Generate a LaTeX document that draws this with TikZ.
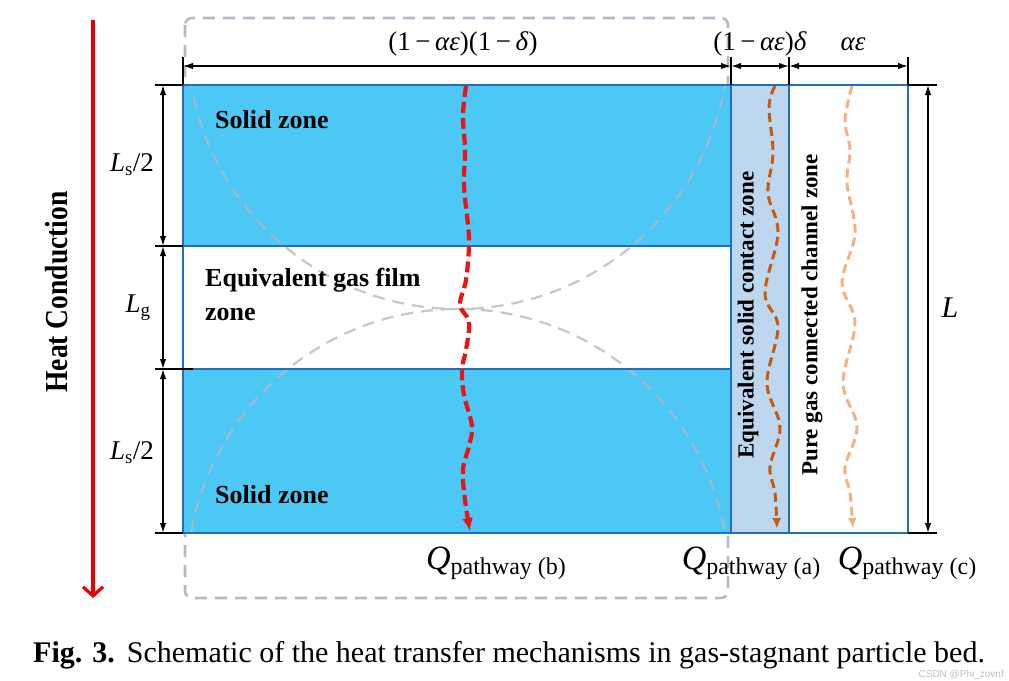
\documentclass[tikz,border=0pt]{standalone}
\usepackage{fontspec}
\setmainfont{Liberation Serif}
\newfontfamily\wmfont{Liberation Sans}
\usetikzlibrary{arrows.meta}
\definecolor{boxblue}{RGB}{30,112,184}
\definecolor{solidfill}{RGB}{77,199,243}
\definecolor{stripfill}{RGB}{189,215,238}
\definecolor{dashgray}{RGB}{178,186,202}
\definecolor{heatred}{RGB}{232,0,0}
\definecolor{pathred}{RGB}{235,20,20}
\definecolor{pathorange}{RGB}{197,90,17}
\definecolor{pathpeach}{RGB}{244,177,131}
\begin{document}
\begin{tikzpicture}[x=1pt,y=-1pt,
  zonebox/.style={draw=boxblue,line width=2.8pt},
  dimline/.style={line width=1.5pt,{Latex[length=10pt,width=6.5pt]}-{Latex[length=10pt,width=6.5pt]}},
  dimtick/.style={line width=1.5pt},
  zonetext/.style={font=\fontsize{26}{34}\selectfont\bfseries,inner sep=0pt},
  striptext/.style={font=\fontsize{23}{23}\selectfont\bfseries,rotate=90,inner sep=0pt},
  mathlbl/.style={font=\fontsize{27}{27}\selectfont,inner sep=0pt},
  qlbl/.style={font=\fontsize{34}{34}\selectfont,inner sep=0pt},
  heatpath/.style={dash pattern=on 11pt off 5pt,line width=4.2pt,-{Latex[length=13pt,width=11pt]}},
  minorpath/.style={dash pattern=on 9pt off 5pt,line width=3pt,-{Latex[length=11pt,width=9pt]}},
  particle/.style={draw=dashgray,line width=2.2pt,dash pattern=on 12pt off 8pt,draw opacity=0.8}
]
\useasboundingbox (0,0) rectangle (1009,680);

% key coordinates
\coordinate (tl) at (183,85);
\coordinate (bm) at (731,85);
\coordinate (bs) at (789,85);
\coordinate (tr) at (908,85);
\coordinate (bl) at (183,533);
\coordinate (bmb) at (731,533);
\coordinate (bsb) at (789,533);
\coordinate (br) at (908,533);
\coordinate (g1l) at (183,246);
\coordinate (g1r) at (731,246);
\coordinate (g2l) at (183,369);
\coordinate (g2r) at (731,369);

% dashed rounded outline (behind the zones)
\draw[draw=dashgray,line width=2.6pt,dash pattern=on 12pt off 8pt,rounded corners=7pt] (185,18) rectangle (728,598);

% fills
\fill[solidfill] (tl) rectangle (g1r);
\fill[white] (g1l) rectangle (g2r);
\fill[solidfill] (g2l) rectangle (bmb);
\fill[stripfill] (bm) rectangle (bsb);

% particle outlines (clipped)
\begin{scope}
  \clip (tl) rectangle (bmb);
  \draw[particle] (458,38) circle[radius=271];
  \draw[particle] (458,580) circle[radius=271];
\end{scope}

% borders
\draw[zonebox] (tl) rectangle (br);
\draw[zonebox] (g1l) -- (g1r);
\draw[zonebox] (g2l) -- (g2r);
\draw[zonebox] (bm) -- (bmb);
\draw[zonebox] (bs) -- (bsb);

% top dimensions
\coordinate (t0) at (183,57); \coordinate (t1) at (731,57);
\coordinate (t2) at (789,57); \coordinate (t3) at (908,57);
\draw[dimtick] (t0) -- (tl);
\draw[dimtick] (t1) -- (bm);
\draw[dimtick] (t2) -- (bs);
\draw[dimtick] (t3) -- (tr);
\draw[dimline] (183,66) -- (731,66);
\draw[dimline] (731,66) -- (789,66);
\draw[dimline] (789,66) -- (908,66);
\node[mathlbl] (lab1) at (463,44) {(1\,−\,\textit{αε})(1\,−\,\textit{δ})};
\node[mathlbl] (lab2) at (760,44) {(1\,−\,\textit{αε})\textit{δ}};
\node[mathlbl] (lab3) at (853,44) {\textit{αε}};

% right dimension
\coordinate (r0) at (937,85); \coordinate (r1) at (937,533);
\draw[dimtick] (tr) -- (r0);
\draw[dimtick] (br) -- (r1);
\draw[dimline] (928,85) -- (928,533);
\node[font=\fontsize{30}{30}\selectfont\itshape,inner sep=0pt] (labL) at (950,308) {L};

% left dimensions
\coordinate (l0) at (155,85); \coordinate (l1) at (155,246);
\coordinate (l2) at (155,369); \coordinate (l3) at (155,533);
\coordinate (l2e) at (193,369);
\draw[dimtick] (l0) -- (tl);
\draw[dimtick] (l1) -- (g1l);
\draw[dimtick] (l2) -- (l2e);
\draw[dimtick] (l3) -- (bl);
\draw[dimline] (163,85) -- (163,246);
\draw[dimline] (163,246) -- (163,369);
\draw[dimline] (163,369) -- (163,533);
\node[mathlbl] (ls1) at (132,165) {\textit{L}\textsubscript{s}/2};
\node[mathlbl] (lg) at (138,308) {\textit{L}\textsubscript{g}};
\node[mathlbl] (ls2) at (132,453) {\textit{L}\textsubscript{s}/2};

% heat conduction arrow
\coordinate (h0) at (93,20); \coordinate (h1) at (93,598);
\draw[heatred,line width=3.2pt,-{Straight Barb[length=9pt,width=20pt,line width=3.2pt]}] (h0) -- (h1);
\node[rotate=90,inner sep=0pt,font=\fontsize{32}{32}\selectfont\bfseries] (heat) at (57,292) {\scalebox{0.86}[1]{Heat Conduction}};

% zone labels
\node[zonetext,anchor=west] (sz1) at (215,120) {Solid zone};
\node[zonetext,anchor=west] (sz2) at (215,495) {Solid zone};
\node[zonetext,anchor=west,align=left] (gz) at (205,294) {Equivalent gas film\\zone};
\node[striptext] (esz) at (748,315) {Equivalent solid contact zone};
\node[striptext] (pgz) at (812,315) {Pure gas connected channel zone};

% heat pathways
\draw[pathred,heatpath] plot[smooth,tension=0.6] coordinates {(466,86) (463,115) (465,150) (464,185) (468,225) (469,246) (466,280) (460,305) (469,322) (466,350) (462,369) (464,395) (472,426) (469,446) (463,470) (465,500) (470,531)};
\draw[pathorange,minorpath] plot[smooth,tension=0.6] coordinates {(775,86) (769,107) (773,153) (768,193) (778,233) (765,293) (778,327) (767,383) (780,427) (770,467) (775,493) (777,529)};
\draw[pathpeach,minorpath] plot[smooth,tension=0.6] coordinates {(852,86) (845,120) (850,150) (847,183) (855,233) (842,283) (855,323) (843,383) (857,427) (845,467) (850,493) (853,529)};

% Q labels
\node[qlbl] (qb) at (496,563) {\textit{Q}\raisebox{-5pt}{\fontsize{24}{24}\selectfont pathway (b)}};
\node[qlbl] (qa) at (751,563) {\textit{Q}\raisebox{-5pt}{\fontsize{24}{24}\selectfont pathway (a)}};
\node[qlbl] (qc) at (907,563) {\textit{Q}\raisebox{-5pt}{\fontsize{24}{24}\selectfont pathway (c)}};

% caption
\node[anchor=west,inner sep=0pt,font=\fontsize{30}{30}\selectfont] (cap) at (33,655) {\textbf{Fig. 3.}\hspace{12pt}Schematic of the heat transfer mechanisms in gas-stagnant particle bed.};
\node[anchor=east,inner sep=0pt,font=\fontsize{10}{10}\selectfont\wmfont,text=gray!50] (wm) at (1004,675) {CSDN @Phi\_zovnf};
\end{tikzpicture}
\end{document}
